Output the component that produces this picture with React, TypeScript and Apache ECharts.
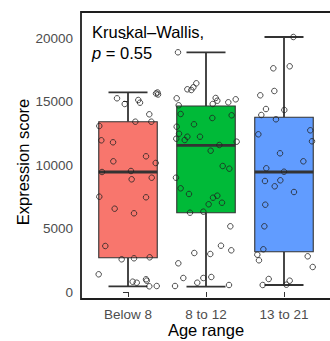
import React, { useEffect, useRef } from "react";
import * as echarts from "echarts";

const categories = ["Below 8", "8 to 12", "13 to 21"];

// [lower whisker, Q1, median, Q3, upper whisker]
const boxStats = [
  [450, 2700, 9450, 13410, 15720],
  [417, 6244, 11551, 14646, 18874],
  [551, 3173, 9449, 13756, 20079],
];

const below8Values = [15252, 14803, 15118, 14906, 15630, 15709, 15551, 13992, 13409, 13409, 13071, 11945, 11787, 10685, 10291, 10157, 9449, 9528, 8874, 9000, 7504, 7457, 6559, 6197, 3622, 2575, 2654, 2732, 1394, 811, 732, 1000, 890, 449, 472];
const below8Jitter = [-0.141, -0.042, 0.132, 0.154, 0.359, 0.378, 0.385, 0.273, 0.094, 0.299, -0.368, -0.342, -0.192, 0.231, -0.188, 0.355, -0.333, 0.038, 0.047, 0.304, -0.368, 0.231, -0.171, 0.077, -0.291, -0.081, 0.077, 0.278, -0.376, 0.06, 0.112, 0.231, 0.24, 0.273, 0.368];

const age8to12Values = [18874, 15961, 15906, 16118, 16433, 15252, 14701, 15276, 15063, 14803, 14937, 15173, 14016, 13701, 13913, 13205, 13016, 12465, 12228, 11969, 12071, 12228, 11835, 11575, 11126, 9921, 9709, 9000, 8165, 7717, 7583, 7425, 6906, 7031, 6244, 6323, 5173, 3646, 3283, 3071, 2992, 2260, 1102, 732, 1102, 1181, 472, 551];
const age8to12Jitter = [-0.359, -0.239, -0.188, -0.162, -0.124, -0.376, -0.35, 0.124, 0.145, 0.086, 0.286, 0.381, -0.325, 0.081, 0.329, -0.154, -0.376, -0.346, -0.239, -0.273, -0.381, -0.077, 0.393, 0.171, 0.06, 0.214, 0.299, -0.385, -0.325, -0.218, 0.145, 0.09, 0.034, 0.205, -0.205, -0.034, 0.312, 0.192, 0.324, -0.15, 0.055, -0.355, -0.291, -0.112, -0.034, 0.068, -0.397, 0.295];

const age13to21Values = [20079, 17614, 17772, 15488, 15827, 14409, 13937, 14331, 13598, 12732, 12417, 11866, 10921, 10291, 9740, 9472, 8740, 8795, 8323, 7874, 6874, 5173, 3362, 2937, 2496, 2811, 1969, 1024, 890, 551, 575];
const age13to21Jitter = [0.12, -0.137, 0.073, -0.304, -0.124, -0.231, -0.291, 0.004, -0.103, 0.337, -0.329, 0.359, -0.051, 0.248, -0.227, 0, -0.244, -0.047, -0.119, 0.128, -0.24, -0.252, -0.265, -0.342, -0.321, 0.304, 0.368, -0.196, 0.073, -0.273, 0.03];

const yTicks = { min: 0, max: 20000, interval: 5000 };

const boxColors = ["#F8766D", "#00BA38", "#619CFF"];
const FONT = "'Liberation Sans', Arial, Helvetica, sans-serif";

export default function App() {
  const ref = useRef<HTMLDivElement>(null);

  useEffect(() => {
    if (!ref.current) return;
    const chart = echarts.init(ref.current, undefined, { renderer: "svg" });

    const groups = [
      [below8Values, below8Jitter],
      [age8to12Values, age8to12Jitter],
      [age13to21Values, age13to21Jitter],
    ];
    const pointData: number[][] = [];
    groups.forEach(([vals, jit], gi) => {
      vals.forEach((v, i) => pointData.push([gi + jit[i], v]));
    });

    const boxData = boxStats.map((s, i) => [i, ...s]);

    const renderBox = (params: any, api: any) => {
      const idx = api.value(0);
      const lo = api.value(1), q1 = api.value(2), med = api.value(3), q3 = api.value(4), hi = api.value(5);
      const band = api.size([1, 0])[0];
      const bw = band * 0.75;
      const cw = band * 0.5;
      const pLo = api.coord([idx, lo]);
      const pQ1 = api.coord([idx, q1]);
      const pMed = api.coord([idx, med]);
      const pQ3 = api.coord([idx, q3]);
      const pHi = api.coord([idx, hi]);
      const cx = pMed[0];
      const dark = "#333333";
      return {
        type: "group",
        children: [
          { type: "line", shape: { x1: cx, y1: pQ3[1], x2: cx, y2: pHi[1] }, style: { stroke: dark, lineWidth: 1.8 } },
          { type: "line", shape: { x1: cx, y1: pQ1[1], x2: cx, y2: pLo[1] }, style: { stroke: dark, lineWidth: 1.8 } },
          { type: "line", shape: { x1: cx - cw / 2, y1: pHi[1], x2: cx + cw / 2, y2: pHi[1] }, style: { stroke: dark, lineWidth: 1.8 } },
          { type: "line", shape: { x1: cx - cw / 2, y1: pLo[1], x2: cx + cw / 2, y2: pLo[1] }, style: { stroke: dark, lineWidth: 1.8 } },
          {
            type: "rect",
            shape: { x: cx - bw / 2, y: pQ3[1], width: bw, height: pQ1[1] - pQ3[1] },
            style: { fill: boxColors[idx], stroke: dark, lineWidth: 1.1 },
          },
          { type: "line", shape: { x1: cx - bw / 2, y1: pMed[1], x2: cx + bw / 2, y2: pMed[1] }, style: { stroke: dark, lineWidth: 2.8 } },
        ],
      };
    };

    chart.setOption({
      animation: false,
      backgroundColor: "#ffffff",
      grid: { left: 89, right: 7, top: 38, bottom: 49 },
      xAxis: [
        {
          type: "category",
          data: categories,
          offset: 7,
          axisLine: { show: false },
          axisTick: { show: true, alignWithLabel: true, length: 5, lineStyle: { color: "#333", width: 1 } },
          axisLabel: { fontSize: 13.5, color: "#4d4d4d", margin: 8, fontFamily: FONT },
          splitLine: { show: false },
        },
        { type: "value", min: -0.5, max: 2.5, show: false },
      ],
      yAxis: {
        type: "value",
        min: yTicks.min,
        max: yTicks.max,
        interval: yTicks.interval,
        offset: 8,
        axisLine: { show: false },
        axisTick: { show: true, length: 5, lineStyle: { color: "#333", width: 1 } },
        axisLabel: { fontSize: 13.5, color: "#4d4d4d", margin: 8, fontFamily: FONT, formatter: (v: number) => String(v) },
        splitLine: { show: false },
      },
      series: [
        {
          type: "custom",
          xAxisIndex: 1,
          data: boxData,
          renderItem: renderBox,
          encode: { x: 0, y: [1, 2, 3, 4, 5] },
          z: 2,
        },
        {
          type: "scatter",
          xAxisIndex: 1,
          data: pointData,
          symbol: "circle",
          symbolSize: 5.5,
          clip: false,
          itemStyle: { color: "rgba(0,0,0,0)", borderColor: "#222", borderWidth: 0.8, opacity: 1 },
          z: 5,
        },
      ],
      graphic: [
        {
          type: "rect",
          shape: { x: 81, y: 12, width: 260, height: 287 },
          style: { fill: "none", stroke: "#1e1e1e", lineWidth: 1.8 },
          z: 100,
        },
        {
          type: "text",
          x: 92,
          y: 31.6,
          style: { text: "Kruskal–Wallis,", font: `16.5px ${FONT}`, fill: "#000", textAlign: "left", textVerticalAlign: "middle" },
          z: 100,
        },
        {
          type: "text",
          x: 92,
          y: 53,
          style: {
            text: "{i|p} = 0.55",
            font: `16.5px ${FONT}`,
            fill: "#000",
            textAlign: "left",
            textVerticalAlign: "middle",
            rich: { i: { fontStyle: "italic", fontSize: 16.5, fontFamily: FONT, fill: "#000" } },
          },
          z: 100,
        },
        {
          type: "text",
          x: 206,
          y: 330,
          style: { text: "Age range", font: `16.5px ${FONT}`, fill: "#000", textAlign: "center", textVerticalAlign: "middle" },
          z: 100,
        },
        {
          type: "text",
          x: 23.3,
          y: 162,
          rotation: Math.PI / 2,
          style: { text: "Expression score", font: `16.5px ${FONT}`, fill: "#000", textAlign: "center", textVerticalAlign: "middle" },
          z: 100,
        },
      ],
    });

    return () => chart.dispose();
  }, []);

  return <div ref={ref} style={{ position: "fixed", left: 0, top: 0, width: 330, height: 341 }} />;
}
